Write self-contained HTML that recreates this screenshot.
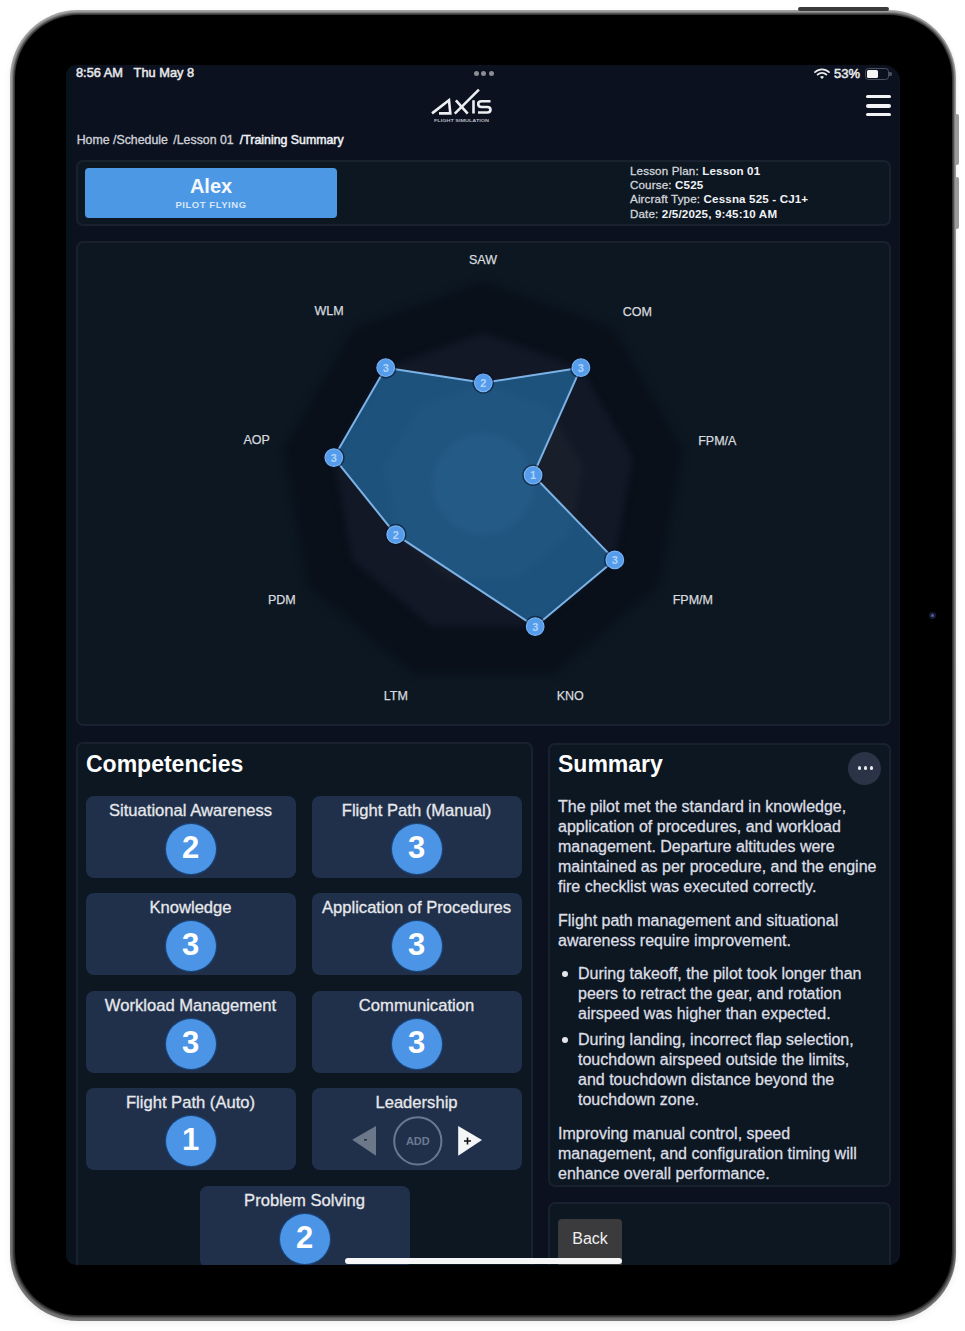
<!DOCTYPE html>
<html><head><meta charset="utf-8">
<style>
*{margin:0;padding:0;box-sizing:border-box}
html,body{width:965px;height:1331px;background:#fff;overflow:hidden;font-family:"Liberation Sans",sans-serif}
.a{position:absolute}
#frame{left:10px;top:10px;width:946px;height:1311px;border-radius:68px;background:linear-gradient(180deg,#a8a8a8,#959595 50%,#767676);box-shadow:0 2px 6px rgba(0,0,0,0.07)}
#body{left:14.5px;top:14.5px;width:937px;height:1300px;border-radius:63.5px;background:#000;box-shadow:0 0 2.5px 1.5px rgba(0,0,0,0.75)}
#screen{left:66px;top:65px;width:834px;height:1200px;border-radius:10px 16px 10px 10px;background:#0b111f;overflow:hidden}
.t{position:absolute;white-space:nowrap;color:#fff;line-height:1}
.panel{position:absolute;border:2px solid #1a212e;border-radius:7px;background:#0c1722}
.card{position:absolute;width:210px;height:81.5px;border-radius:8px;background:#21304a}
.card .ttl{position:absolute;left:0;right:0;top:6.8px;text-align:center;font-size:16.6px;color:#e6e8ec;white-space:nowrap;line-height:1;-webkit-text-stroke:0.3px #e6e8ec}
.card .num{position:absolute;left:80px;top:28.3px;width:50px;height:50px;border-radius:50%;background:#4c95e6;box-shadow:0 0 0 1.2px #1a4378;color:#fff;font-weight:bold;font-size:31px;text-align:center;line-height:48px}
.info b{-webkit-text-stroke:0}
.sum{position:absolute;left:558px;font-size:16px;color:#dcdee3;white-space:nowrap;line-height:20.2px;margin-top:1.5px;-webkit-text-stroke:0.3px #dcdee3}
</style></head><body>
<div id="frame" class="a"></div>
<div id="body" class="a"></div>
<div class="a" style="left:798px;top:7px;width:91px;height:4px;border-radius:2px;background:#3a3a3a"></div>
<div class="a" style="left:955px;top:114px;width:3.5px;height:51px;border-radius:2px;background:#9a9a9a"></div>
<div class="a" style="left:955px;top:177px;width:3.5px;height:52px;border-radius:2px;background:#9a9a9a"></div>
<div class="a" style="left:929px;top:612px;width:7px;height:7px;border-radius:50%;background:#1a1d2e"></div>
<div class="a" style="left:931px;top:614px;width:3px;height:3px;border-radius:50%;background:#4a5fa8"></div>

<div id="screen" class="a">
<div class="a" style="left:-66px;top:-65px;width:965px;height:1331px">
<div class="a" style="left:66px;top:60px;width:6px;height:1220px;background:linear-gradient(90deg,#06111a,#08131c)"></div>
<!-- status bar -->
<div class="t" style="left:76px;top:67.3px;font-size:12.8px;color:#e8e8ea;-webkit-text-stroke:0.5px #e8e8ea">8:56 AM&nbsp;&nbsp;&nbsp;Thu May 8</div>
<div class="a" style="left:473.5px;top:71px;width:5px;height:5px;border-radius:50%;background:#8a8d94"></div>
<div class="a" style="left:481.2px;top:71px;width:5px;height:5px;border-radius:50%;background:#8a8d94"></div>
<div class="a" style="left:489px;top:71px;width:5px;height:5px;border-radius:50%;background:#8a8d94"></div>
<svg class="a" style="left:814px;top:68px" width="16" height="11" viewBox="0 0 16 11">
<path d="M1 4.2 A10 10 0 0 1 15 4.2" stroke="#e8e8ea" stroke-width="1.8" fill="none" stroke-linecap="round"/>
<path d="M3.6 6.6 A6.3 6.3 0 0 1 12.4 6.6" stroke="#e8e8ea" stroke-width="1.8" fill="none" stroke-linecap="round"/>
<path d="M6 9 L8 11 L10 9 A2.8 2.8 0 0 0 6 9Z" fill="#e8e8ea"/>
</svg>
<div class="t" style="left:834px;top:67px;font-size:13px;color:#e8e8ea;-webkit-text-stroke:0.5px #e8e8ea">53%</div>
<div class="a" style="left:865px;top:67.5px;width:24px;height:12px;border-radius:3.5px;border:1.5px solid #4a505c"></div>
<div class="a" style="left:866.5px;top:69.5px;width:11px;height:8px;border-radius:1.5px;background:#f4f4f4"></div>
<div class="a" style="left:889px;top:71.5px;width:2.5px;height:4.5px;border-radius:0 1.5px 1.5px 0;background:#4a505c"></div>
<!-- logo -->
<svg class="a" style="left:425px;top:85px" width="70" height="42" viewBox="0 0 70 42">
<g fill="none" stroke="#eceef2" stroke-width="2.6" stroke-linecap="butt" stroke-linejoin="miter">
<path d="M7,28.4 L24,15.3 L25.3,28.4 L14,28.4"/>
<path d="M29.8,28.6 L53.9,4.6"/>
<path d="M30.9,15.3 L42.7,28.6"/>
<path d="M48.5,15.3 V28.6"/>
<path d="M65.5,16.2 H56.5 Q53.2,16.2 53.2,19.1 Q53.2,22 56.5,22 H62.3 Q65.5,22 65.5,24.8 Q65.5,27.5 62.3,27.5 H53"/>
</g>
<text x="9" y="36.8" font-family="Liberation Sans" font-weight="bold" font-size="4.4" textLength="55" lengthAdjust="spacingAndGlyphs" fill="#b4b8c0">FLIGHT SIMULATION</text>
</svg>
<!-- hamburger -->
<div class="a" style="left:866px;top:95px;width:25px;height:3.4px;border-radius:2px;background:#f4f4f6"></div>
<div class="a" style="left:866px;top:104.2px;width:25px;height:3.4px;border-radius:2px;background:#f4f4f6"></div>
<div class="a" style="left:866px;top:113px;width:25px;height:3.4px;border-radius:2px;background:#f4f4f6"></div>
<!-- breadcrumb -->
<div class="t" style="left:76.7px;top:134px;font-size:12.35px;color:#cdd0d6;-webkit-text-stroke:0.35px #cdd0d6">Home</div>
<div class="t" style="left:113px;top:134px;font-size:12.35px;color:#cdd0d6;-webkit-text-stroke:0.35px #cdd0d6">/Schedule</div>
<div class="t" style="left:173.3px;top:134px;font-size:12.35px;color:#cdd0d6;-webkit-text-stroke:0.35px #cdd0d6">/Lesson 01</div>
<div class="t" style="left:239.8px;top:134px;font-size:12.35px;color:#eef0f3;-webkit-text-stroke:0.5px #eef0f3">/Training Summary</div>
<!-- info panel -->
<div class="panel" style="left:76px;top:160px;width:815px;height:66.4px"></div>
<div class="a" style="left:85px;top:168px;width:252px;height:50px;border-radius:4px;background:#4d98e5"></div>
<div class="t" style="left:85px;top:176px;width:252px;text-align:center;font-size:20px;font-weight:bold;color:#f4f8fc">Alex</div>
<div class="t" style="left:85px;top:200px;width:252px;text-align:center;font-size:9.5px;font-weight:bold;letter-spacing:0.55px;color:#d6e6f8">PILOT FLYING</div>
<div class="t info" style="left:630px;top:164px;font-size:11.6px;letter-spacing:0.15px;line-height:14.2px;color:#d2d5da;-webkit-text-stroke:0.3px #d2d5da">Lesson Plan: <b style="color:#f0f2f5">Lesson 01</b><br>Course: <b style="color:#f0f2f5">C525</b><br>Aircraft Type: <b style="color:#f0f2f5">Cessna 525 - CJ1+</b><br>Date: <b style="color:#f0f2f5">2/5/2025, 9:45:10 AM</b></div>
<!-- chart panel -->
<div class="panel" style="left:75.5px;top:241px;width:815.5px;height:485.4px"></div>
<svg class="a" style="left:0;top:0" width="965" height="1331" viewBox="0 0 965 1331">
<defs><filter id="bl" color-interpolation-filters="sRGB" x="-20%" y="-20%" width="140%" height="140%"><feGaussianBlur stdDeviation="3"/></filter>
<filter id="bl2" color-interpolation-filters="sRGB" x="-20%" y="-20%" width="140%" height="140%"><feGaussianBlur stdDeviation="4"/></filter></defs>
<g filter="url(#bl2)"><polygon points="483.3,281.6 613.4,329.0 682.6,448.9 658.6,585.2 552.5,674.2 414.1,674.2 308.0,585.2 284.0,448.9 353.2,329.0" fill="#09101a"/></g>
<g filter="url(#bl)"><polygon points="483.3,332.2 580.9,367.7 632.8,457.6 614.8,559.9 535.2,626.6 431.4,626.6 351.8,559.9 333.8,457.6 385.7,367.7" fill="#121826"/>
<polygon points="483.3,382.8 548.4,406.5 583.0,466.4 570.9,534.6 517.9,579.1 448.7,579.1 395.7,534.6 383.6,466.4 418.2,406.5" fill="#191e2b"/>
<circle cx="483.3" cy="484" r="50.6" fill="#212938"/></g>
<polygon points="483.3,382.8 580.9,367.7 533.1,475.2 614.8,559.9 535.2,626.6 395.7,534.6 333.8,457.6 385.7,367.7" fill="rgba(40,140,212,0.5)" stroke="#7db2e6" stroke-width="2" stroke-linejoin="round"/>
<circle cx="483.3" cy="382.8" r="10.8" fill="#07102a" opacity="0.55"/><circle cx="483.3" cy="382.8" r="8.8" fill="#559cec" stroke="#78b3f0" stroke-width="1.2"/><text x="483.3" y="386.8" text-anchor="middle" font-size="11" font-weight="bold" fill="#b0d4f8">2</text><circle cx="580.9" cy="367.7" r="10.8" fill="#07102a" opacity="0.55"/><circle cx="580.9" cy="367.7" r="8.8" fill="#559cec" stroke="#78b3f0" stroke-width="1.2"/><text x="580.9" y="371.7" text-anchor="middle" font-size="11" font-weight="bold" fill="#b0d4f8">3</text><circle cx="533.1" cy="475.2" r="10.8" fill="#07102a" opacity="0.55"/><circle cx="533.1" cy="475.2" r="8.8" fill="#559cec" stroke="#78b3f0" stroke-width="1.2"/><text x="533.1" y="479.2" text-anchor="middle" font-size="11" font-weight="bold" fill="#b0d4f8">1</text><circle cx="614.8" cy="559.9" r="10.8" fill="#07102a" opacity="0.55"/><circle cx="614.8" cy="559.9" r="8.8" fill="#559cec" stroke="#78b3f0" stroke-width="1.2"/><text x="614.8" y="563.9" text-anchor="middle" font-size="11" font-weight="bold" fill="#b0d4f8">3</text><circle cx="535.2" cy="626.6" r="10.8" fill="#07102a" opacity="0.55"/><circle cx="535.2" cy="626.6" r="8.8" fill="#559cec" stroke="#78b3f0" stroke-width="1.2"/><text x="535.2" y="630.6" text-anchor="middle" font-size="11" font-weight="bold" fill="#b0d4f8">3</text><circle cx="395.7" cy="534.6" r="10.8" fill="#07102a" opacity="0.55"/><circle cx="395.7" cy="534.6" r="8.8" fill="#559cec" stroke="#78b3f0" stroke-width="1.2"/><text x="395.7" y="538.6" text-anchor="middle" font-size="11" font-weight="bold" fill="#b0d4f8">2</text><circle cx="333.8" cy="457.6" r="10.8" fill="#07102a" opacity="0.55"/><circle cx="333.8" cy="457.6" r="8.8" fill="#559cec" stroke="#78b3f0" stroke-width="1.2"/><text x="333.8" y="461.6" text-anchor="middle" font-size="11" font-weight="bold" fill="#b0d4f8">3</text><circle cx="385.7" cy="367.7" r="10.8" fill="#07102a" opacity="0.55"/><circle cx="385.7" cy="367.7" r="8.8" fill="#559cec" stroke="#78b3f0" stroke-width="1.2"/><text x="385.7" y="371.7" text-anchor="middle" font-size="11" font-weight="bold" fill="#b0d4f8">3</text>
<g font-family="Liberation Sans" font-size="12.5" fill="#d8dadf" stroke="#d8dadf" stroke-width="0.25"><text x="483" y="264.0" text-anchor="middle">SAW</text><text x="637.3" y="315.5" text-anchor="middle">COM</text><text x="717.3" y="444.8" text-anchor="middle">FPM/A</text><text x="692.8" y="603.5" text-anchor="middle">FPM/M</text><text x="570.2" y="700.0" text-anchor="middle">KNO</text><text x="395.8" y="699.7" text-anchor="middle">LTM</text><text x="281.8" y="603.5" text-anchor="middle">PDM</text><text x="256.7" y="444.0" text-anchor="middle">AOP</text><text x="329" y="315.2" text-anchor="middle">WLM</text></g>
</svg>
<!-- competencies -->
<div class="panel" style="left:76px;top:742px;width:456.8px;height:600px"></div>
<div class="t" style="left:86px;top:753px;font-size:23px;font-weight:bold;color:#fff">Competencies</div>
<div class="card" style="left:85.5px;top:796px"><div class="ttl">Situational Awareness</div><div class="num">2</div></div>
<div class="card" style="left:311.5px;top:796px"><div class="ttl">Flight Path (Manual)</div><div class="num">3</div></div>
<div class="card" style="left:85.5px;top:893px"><div class="ttl">Knowledge</div><div class="num">3</div></div>
<div class="card" style="left:311.5px;top:893px"><div class="ttl">Application of Procedures</div><div class="num">3</div></div>
<div class="card" style="left:85.5px;top:991px"><div class="ttl">Workload Management</div><div class="num">3</div></div>
<div class="card" style="left:311.5px;top:991px"><div class="ttl">Communication</div><div class="num">3</div></div>
<div class="card" style="left:85.5px;top:1088px"><div class="ttl">Flight Path (Auto)</div><div class="num">1</div></div>
<div class="card" style="left:311.5px;top:1088px"><div class="ttl">Leadership</div></div>
<svg class="a" style="left:340px;top:1110px" width="160" height="60" viewBox="0 0 160 60">
<path d="M12.2 29.7 L36 16 L36 45.7 Z" fill="#6c7789"/>
<rect x="24" y="29" width="3" height="1.6" fill="#2a3040"/>
<circle cx="77.8" cy="30.9" r="23.6" fill="none" stroke="#687892" stroke-width="2"/>
<text x="77.8" y="35" text-anchor="middle" font-family="Liberation Sans" font-size="11" font-weight="bold" fill="#6a7992">ADD</text>
<path d="M118.2 16 L142 30 L118.2 45.7 Z" fill="#f4f5f7"/>
<path d="M124 31 h7 M127.5 27.5 v7" stroke="#111" stroke-width="1.6"/>
</svg>
<div class="card" style="left:199.5px;top:1186px"><div class="ttl">Problem Solving</div><div class="num">2</div></div>
<!-- summary -->
<div class="panel" style="left:548px;top:742.5px;width:343px;height:444.5px"></div>
<div class="t" style="left:558px;top:753px;font-size:23px;font-weight:bold;color:#fff">Summary</div>
<div class="a" style="left:848.2px;top:751.6px;width:33px;height:33px;border-radius:50%;background:#2b3446"></div>
<div class="a" style="left:857.5px;top:766px;width:3.5px;height:3.5px;border-radius:50%;background:#e8eaee"></div>
<div class="a" style="left:863.5px;top:766px;width:3.5px;height:3.5px;border-radius:50%;background:#e8eaee"></div>
<div class="a" style="left:869.5px;top:766px;width:3.5px;height:3.5px;border-radius:50%;background:#e8eaee"></div>
<div class="sum" style="top:795px">The pilot met the standard in knowledge,<br>application of procedures, and workload<br>management. Departure altitudes were<br>maintained as per procedure, and the engine<br>fire checklist was executed correctly.</div>
<div class="sum" style="top:909px">Flight path management and situational<br>awareness require improvement.</div>
<div class="a" style="left:561.5px;top:971px;width:6px;height:6px;border-radius:50%;background:#e4e6ea"></div>
<div class="sum" style="left:578px;top:962px">During takeoff, the pilot took longer than<br>peers to retract the gear, and rotation<br>airspeed was higher than expected.</div>
<div class="a" style="left:561.5px;top:1037px;width:6px;height:6px;border-radius:50%;background:#e4e6ea"></div>
<div class="sum" style="left:578px;top:1028px">During landing, incorrect flap selection,<br>touchdown airspeed outside the limits,<br>and touchdown distance beyond the<br>touchdown zone.</div>
<div class="sum" style="top:1122px">Improving manual control, speed<br>management, and configuration timing will<br>enhance overall performance.</div>
<!-- back panel -->
<div class="panel" style="left:548px;top:1202px;width:343px;height:120px"></div>
<div class="a" style="left:558px;top:1219px;width:64px;height:60px;border-radius:4px;background:#3b3b3d"></div>
<div class="t" style="left:558px;top:1231px;width:64px;text-align:center;font-size:16px;color:#f0f0f2">Back</div>
<!-- home indicator -->
<div class="a" style="left:345px;top:1258.3px;width:277px;height:6px;border-radius:3px;background:#f6f6f6"></div>
</div>
</div>
</body></html>
